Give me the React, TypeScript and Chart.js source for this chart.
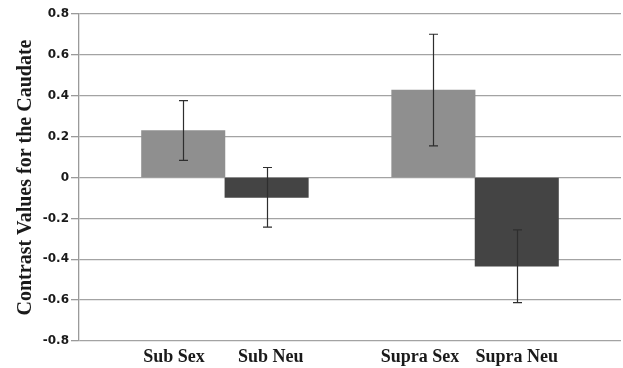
import React, { useEffect, useRef } from "react";
import { Chart, registerables } from "chart.js";

Chart.register(...registerables);

// Data
const categories: string[] = ["Sub Sex", "Sub Neu", "", "Supra Sex", "Supra Neu"];
const values: (number | null)[] = [0.23, -0.097, null, 0.428, -0.434];
const errors: (number | null)[] = [0.146, 0.146, null, 0.273, 0.178];
const yTicks: number[] = [-0.8, -0.6, -0.4, -0.2, 0, 0.2, 0.4, 0.6, 0.8];
const yTitle = "Contrast Values for the Caudate";

// label nudges (category units) so the text sits as in the original
const LABEL_SHIFT = [-0.11, 0.05, 0, -0.16, 0];

const LIGHT = "#8f8f8f";
const DARK = "#444444";

const errorBarPlugin = {
  id: "errorBars",
  afterDatasetsDraw(chart: any) {
    const ctx = chart.ctx;
    const yScale = chart.scales.y;
    const meta = chart.getDatasetMeta(0);
    ctx.save();
    ctx.strokeStyle = "#2e2e2e";
    ctx.lineWidth = 1.2;
    meta.data.forEach((el: any, i: number) => {
      const v = values[i];
      const e = errors[i];
      if (v == null || e == null) return;
      const x = Math.round(el.x) + 0.5;
      const yTop = yScale.getPixelForValue(v + e);
      const yBot = yScale.getPixelForValue(v - e);
      const cap = 4.5;
      ctx.beginPath();
      ctx.moveTo(x, yTop);
      ctx.lineTo(x, yBot);
      ctx.moveTo(x - cap, yTop);
      ctx.lineTo(x + cap, yTop);
      ctx.moveTo(x - cap, yBot);
      ctx.lineTo(x + cap, yBot);
      ctx.stroke();
    });
    ctx.restore();
  },
};

export default function App() {
  const ref = useRef<HTMLCanvasElement | null>(null);

  useEffect(() => {
    if (!ref.current) return;
    const points = categories.map((_, i) => ({ x: i, y: values[i] }));
    const colors = categories.map((c) => (c.endsWith("Sex") ? LIGHT : DARK));
    const chart = new Chart(ref.current, {
      type: "bar",
      data: {
        datasets: [
          {
            data: points as any,
            backgroundColor: colors,
            borderWidth: 0,
            barPercentage: 1,
            categoryPercentage: 1,
          },
        ],
      },
      options: {
        animation: false,
        responsive: false,
        maintainAspectRatio: false,
        layout: { padding: { left: 0, right: 2, top: 14, bottom: 0 } },
        plugins: {
          legend: { display: false },
          tooltip: { enabled: false },
        },
        scales: {
          x: {
            type: "linear",
            offset: false,
            min: -1.25,
            max: 5.25,
            grid: { display: false, offset: false, drawTicks: false },
            border: { display: false },
            afterBuildTicks: (scale: any) => {
              scale.ticks = categories
                .map((c, i) => ({ value: i + LABEL_SHIFT[i], label: c }))
                .filter((t) => t.label !== "")
                .map((t) => ({ value: t.value }));
            },
            afterFit: (scale: any) => {
              scale.height = 27;
            },
            ticks: {
              autoSkip: false,
              maxRotation: 0,
              padding: 6,
              color: "#1a1a1a",
              font: { family: "'Liberation Serif', 'Times New Roman', serif", size: 18, weight: "bold" },
              callback: (v: any) => categories[Math.round(Number(v))] ?? "",
            },
          },
          y: {
            min: -0.8,
            max: 0.8,
            afterBuildTicks: (scale: any) => {
              scale.ticks = yTicks.map((v) => ({ value: v }));
            },
            afterFit: (scale: any) => {
              scale.width = 79;
            },
            grid: {
              color: "#a3a3a3",
              lineWidth: 1.3,
              tickLength: 8,
              tickColor: "#9a9a9a",
            },
            border: { display: true, color: "#9a9a9a", width: 1.3 },
            ticks: {
              padding: 2,
              color: "#1a1a1a",
              font: { family: "'DejaVu Sans', sans-serif", size: 12, weight: "bold" },
              callback: (v: any) => String(Math.round(Number(v) * 10) / 10),
            },
            title: {
              display: true,
              text: yTitle,
              color: "#1a1a1a",
              padding: { top: 14, bottom: 0 },
              font: { family: "'Liberation Serif', 'Times New Roman', serif", size: 20, weight: "bold" },
            },
          },
        },
      },
      plugins: [errorBarPlugin],
    });
    return () => chart.destroy();
  }, []);

  return (
    <div style={{ position: "fixed", left: 0, top: 0, width: 623, height: 368, background: "#fff" }}>
      <canvas ref={ref} width={623} height={368} style={{ width: 623, height: 368 }} />
    </div>
  );
}
